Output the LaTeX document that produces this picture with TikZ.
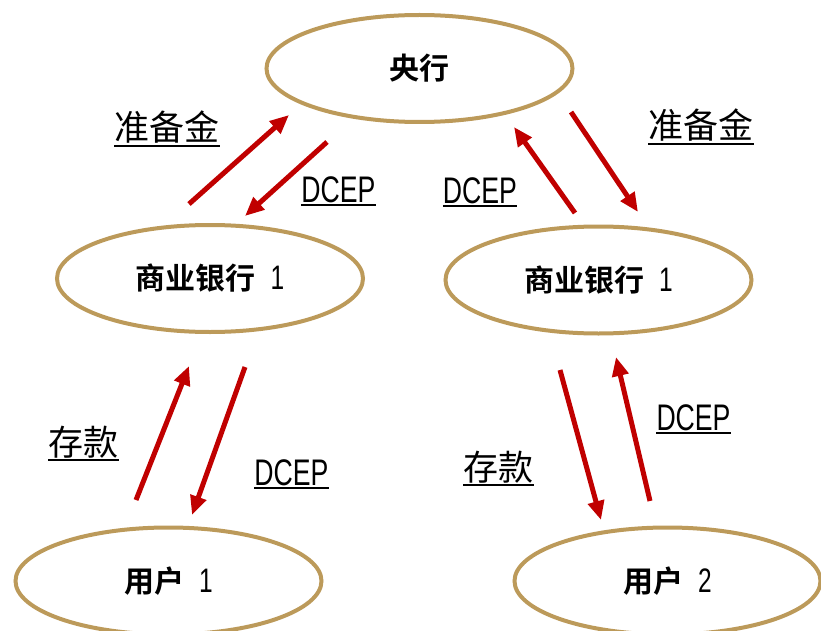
\documentclass[tikz,border=0pt]{standalone}
\usepackage{fontspec}
\usetikzlibrary{shapes.geometric,arrows.meta}
\newfontfamily\cjk{Noto Sans CJK SC}
\newfontfamily\cjkb{Noto Sans CJK SC Bold}
\newfontfamily\dcepf[FakeStretch=0.72]{Liberation Sans}
\definecolor{gold}{RGB}{188,154,90}
\definecolor{arrred}{RGB}{192,0,0}
\tikzset{
  ent/.style={draw=gold, line width=4pt, ellipse, inner sep=0pt,
    minimum width=306pt, minimum height=107pt, font=\cjkb\fontsize{30}{33}\selectfont},
  flow/.style={draw=arrred, line width=5pt, -{Triangle[length=19pt,width=16pt]}},
  cjklab/.style={inner sep=0pt, anchor=base, text depth=5pt, font=\cjk\fontsize{35}{38}\selectfont},
  dceplab/.style={inner sep=0pt, anchor=base, text depth=2.5pt, font=\dcepf\fontsize{37}{40}\selectfont},
  ul/.style={line width=1.6pt, draw=black}
}
\newcommand\numf{\dcepf\fontsize{34}{36}\selectfont}
\newcommand\gap{\hspace{15pt}}
\begin{document}
\begin{tikzpicture}[x=1pt,y=-1pt]
\useasboundingbox (0,0) rectangle (821,631);
% entities
\node[ent] (cb) at (419.5,68.5) {央行};
\node[ent] (b1) at (210,278.5) {商业银行\gap{\numf 1}};
\node[ent] (b2) at (598.5,280) {商业银行\gap{\numf 1}};
\node[ent] (u1) at (168.5,581) {用户\gap{\numf 1}};
\node[ent] (u2) at (667.5,581) {用户\gap{\numf 2}};
% arrow end points
\coordinate (a1s) at (189,204);  \coordinate (a1e) at (289,115);
\coordinate (a2s) at (327,142);  \coordinate (a2e) at (245,216);
\coordinate (a3s) at (575,213);  \coordinate (a3e) at (514,127);
\coordinate (a4s) at (571,112);  \coordinate (a4e) at (638,212);
\coordinate (a5s) at (136,500);  \coordinate (a5e) at (189,366);
\coordinate (a6s) at (245,367);  \coordinate (a6e) at (192,515);
\coordinate (a7s) at (560,370);  \coordinate (a7e) at (601,520);
\coordinate (a8s) at (650,501);  \coordinate (a8e) at (616,357);
\draw[flow] (a1s) -- (a1e);
\draw[flow] (a2s) -- (a2e);
\draw[flow] (a3s) -- (a3e);
\draw[flow] (a4s) -- (a4e);
\draw[flow] (a5s) -- (a5e);
\draw[flow] (a6s) -- (a6e);
\draw[flow] (a7s) -- (a7e);
\draw[flow] (a8s) -- (a8e);
% labels
\node[cjklab] (l1) at (167,141) {准备金};
\node[dceplab] (l2) at (338.5,202) {DCEP};
\node[dceplab] (l3) at (480,203) {DCEP};
\node[cjklab] (l4) at (701,139) {准备金};
\node[cjklab] (l5) at (83.5,455) {存款};
\node[dceplab] (l6) at (291.5,485) {DCEP};
\node[cjklab] (l7) at (498.5,480) {存款};
\node[dceplab] (l8) at (693.5,430) {DCEP};
\foreach \n in {l1,l2,l3,l4,l5,l6,l7,l8}
  \draw[ul] (\n.south west) -- (\n.south east);
\end{tikzpicture}
\end{document}
